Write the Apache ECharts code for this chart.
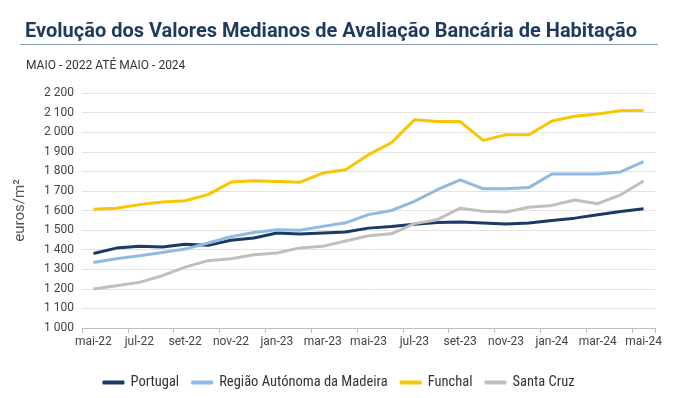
<!DOCTYPE html>
<html>
<head>
<meta charset="utf-8">
<script src="https://cdn.jsdelivr.net/npm/echarts@6/dist/echarts.min.js"></script>
<style>
  html, body { margin: 0; padding: 0; background: #fff; }
  #chart { width: 677px; height: 398px; }
</style>
</head>
<body>
<div id="chart"></div>
<script>
// meses de mai-22 a mai-24
let meses = ['mai-22', 'jun-22', 'jul-22', 'ago-22', 'set-22', 'out-22', 'nov-22', 'dez-22',
      'jan-23', 'fev-23', 'mar-23', 'abr-23', 'mai-23', 'jun-23', 'jul-23', 'ago-23',
      'set-23', 'out-23', 'nov-23', 'dez-23', 'jan-24', 'fev-24', 'mar-24', 'abr-24', 'mai-24'];

// valores em euros/m2
let portugal = [1380, 1408, 1418, 1414, 1428, 1422, 1448, 1460, 1485, 1480, 1485, 1490,
      1510, 1518, 1530, 1539, 1541, 1536, 1531, 1536, 1549, 1561, 1578, 1595, 1609];
let madeira = [1335, 1354, 1369, 1386, 1403, 1434, 1466, 1488, 1502, 1499, 1519, 1537,
      1579, 1600, 1647, 1706, 1756, 1711, 1711, 1717, 1786, 1786, 1786, 1797, 1850];
let funchal = [1607, 1612, 1630, 1643, 1650, 1681, 1745, 1752, 1748, 1744, 1791, 1808,
      1885, 1946, 2063, 2054, 2054, 1958, 1987, 1987, 2057, 2081, 2093, 2110, 2111];
let santaCruz = [1199, 1216, 1233, 1267, 1311, 1344, 1354, 1374, 1383, 1409, 1417, 1444,
      1471, 1481, 1533, 1553, 1612, 1596, 1592, 1617, 1626, 1654, 1635, 1680, 1751];

let nomes = ['Portugal', 'Região Autónoma da Madeira', 'Funchal', 'Santa Cruz'];
let cores = ['#1b3a66', '#8fbbe0', '#f7c600', '#bfbfbf'];

// fonte estreita se existir
let estreita = '"Roboto Condensed", "Liberation Sans Narrow", "DejaVu Sans Condensed", Roboto';

let myChart = echarts.init(document.getElementById('chart'));

function serie(i, dados) {
      return {
            name: nomes[i],
            type: 'line',
            data: dados,
            symbol: 'none',
            lineStyle: { width: 3, color: cores[i] },
            itemStyle: { color: cores[i] }
      };
}

let option = {
      backgroundColor: '#fff',
      animation: false,
      title: [{
            text: 'Evolução dos Valores Medianos de Avaliação Bancária de Habitação',
            left: 20,
            top: 17,
            textStyle: { fontFamily: 'Roboto', fontSize: 20, fontWeight: 'bold', color: '#1f3a5f' }
      }, {
            text: 'MAIO - 2022 ATÉ MAIO - 2024',
            left: 21,
            top: 55,
            textStyle: { fontFamily: 'Roboto', fontSize: 12, fontWeight: 'normal', color: '#333' }
      }],
      graphic: [{
            type: 'line',
            shape: { x1: 20, y1: 44.5, x2: 658, y2: 44.5 },
            style: { stroke: '#8a9bb0', lineWidth: 1 }
      }],
      legend: {
            top: 370,
            left: 'center',
            itemWidth: 22,
            itemHeight: 4,
            itemGap: 12,
            icon: 'roundRect',
            textStyle: { fontFamily: estreita, fontSize: 14.5, color: '#333', padding: [0, 0, 0, 1] },
            data: nomes
      },
      grid: { left: 82, right: 22, top: 93, bottom: 70 },
      xAxis: {
            type: 'category',
            data: meses,
            boundaryGap: true,
            axisLine: { lineStyle: { color: '#bfbfbf' } },
            axisTick: { show: true, interval: 1, lineStyle: { color: '#bfbfbf' } },
            axisLabel: { interval: 1, fontFamily: 'Roboto', fontSize: 12, color: '#444', margin: 8 }
      },
      yAxis: {
            type: 'value',
            min: 1000,
            max: 2200,
            interval: 100,
            name: 'euros/m²',
            nameLocation: 'middle',
            nameGap: 50,
            nameTextStyle: { fontFamily: 'Roboto', fontSize: 15, color: '#555', padding: [0, 0, 4, 0] },
            axisLine: { show: false },
            axisTick: { show: false },
            splitLine: { lineStyle: { color: '#e3e3e3' } },
            axisLabel: {
                  fontFamily: 'Roboto', fontSize: 12, color: '#444', margin: 8,
                  formatter: function (v) {
                        return v >= 1000 ? Math.floor(v / 1000) + ' ' + String(v % 1000).padStart(3, '0') : v;
                  }
            }
      },
      series: [
            serie(0, portugal),
            serie(1, madeira),
            serie(2, funchal),
            serie(3, santaCruz)
      ]
};

myChart.setOption(option);
</script>
</body>
</html>
